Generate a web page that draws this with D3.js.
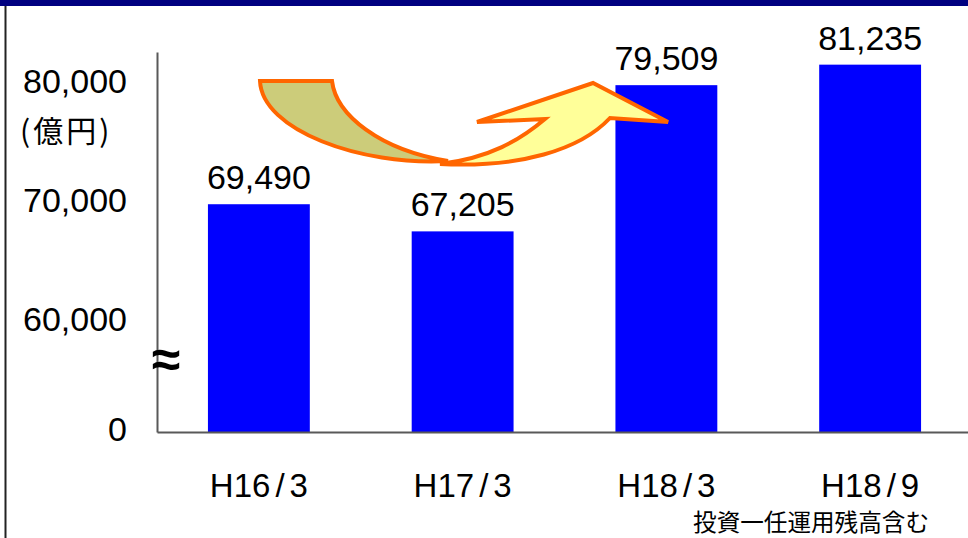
<!DOCTYPE html>
<html>
<head>
<meta charset="utf-8">
<script src="https://d3js.org/d3.v7.min.js"></script>
<style>
  body { margin: 0; background: #fff; }
  svg { display: block; }
  text { font-family: "Liberation Sans", Arial, sans-serif; fill: #000; }
  .jp { font-family: "Noto Sans CJK JP", sans-serif; }
</style>
</head>
<body>
<svg width="968" height="538"></svg>
<script>
// values (億円)
const categories = ["H16/3", "H17/3", "H18/3", "H18/9"];
const values = [69490, 67205, 79509, 81235];
const yTicks = [0, 60000, 70000, 80000];
const unitLabel = "(億円)";
const footnote = "投資一任運用残高含む";

const svg = d3.select("svg");

// header strip + left frame line
svg.append("rect").attr("x", 0).attr("y", 0).attr("width", 968).attr("height", 6).attr("fill", "#000080");
svg.append("line").attr("x1", 5.5).attr("x2", 5.5).attr("y1", 6).attr("y2", 538)
    .attr("stroke", "#222").attr("stroke-width", 2);

// broken value axis: 0 at the floor, then 60,000 .. top
const y = d3.scaleLinear().domain([0, 60000, 82300]).range([432, 317, 52]);
const x = d3.scaleBand().domain(categories).range([157, 972]).paddingInner(0.5).paddingOuter(0.25);

// bars
svg.append("g").selectAll("rect")
    .data(values)
    .enter().append("rect")
    .attr("x", (d, i) => x(categories[i]))
    .attr("y", d => y(d))
    .attr("width", x.bandwidth())
    .attr("height", d => y(0) - y(d))
    .attr("fill", "#0000ff");

// value labels
svg.append("g").selectAll("text")
    .data(values)
    .enter().append("text")
    .attr("x", (d, i) => x(categories[i]) + x.bandwidth() / 2)
    .attr("y", d => y(d) - 15)
    .attr("text-anchor", "middle")
    .attr("font-size", 34)
    .text(d => d3.format(",")(d));

// y axis
const yAxis = svg.append("g").attr("transform", "translate(157,0)")
    .call(d3.axisLeft(y).tickValues(yTicks).tickSize(0).tickPadding(30).tickFormat(d3.format(",")));
yAxis.select(".domain").attr("stroke", "#595959").attr("stroke-width", 2);
yAxis.selectAll("text").attr("font-size", 34).attr("dy", d => d === 0 ? "0.25em" : "0.4em")
    .attr("font-family", "Liberation Sans, Arial, sans-serif").attr("fill", "#000");

// x axis baseline
const xAxis = svg.append("g").attr("transform", "translate(0,432)")
    .call(d3.axisBottom(x).tickSize(0).tickFormat(""));
xAxis.select(".domain").attr("stroke", "#595959").attr("stroke-width", 2);

// category labels, slash set a little apart like the original
const catText = svg.append("g").selectAll("text")
    .data(categories)
    .enter().append("text")
    .attr("x", d => x(d) + x.bandwidth() / 2)
    .attr("y", 497)
    .attr("text-anchor", "middle")
    .attr("font-size", 33);
catText.append("tspan").text(d => d.split("/")[0]);
catText.append("tspan").attr("dx", 5).text("/");
catText.append("tspan").attr("dx", 5).text(d => d.split("/")[1]);

// unit label
svg.append("text").attr("class", "jp").attr("x", 20).attr("y", 142)
    .attr("font-size", 30).attr("letter-spacing", 3).text(unitLabel);

// axis break mark
svg.append("text").attr("x", 166).attr("y", 377)
    .attr("text-anchor", "middle")
    .attr("font-family", "DejaVu Serif, serif")
    .attr("font-weight", "bold")
    .attr("font-size", 52)
    .text("≈");

// curved arrow (decoration)
const arrow = svg.append("g")
    .attr("stroke", "#ff6600").attr("stroke-width", 4).attr("stroke-linejoin", "miter");
arrow.append("path")
    .attr("fill", "#cccc7a")
    .attr("d", "M260,81 L332,81 C336,115 380,150 448,161 C360,166 262,130 260,81 Z");
arrow.append("path")
    .attr("fill", "#ffff99")
    .attr("d", "M440,164 C520,168 580,150 610,118 L668,122 L593,83 L477,122 L545,119 C520,140 490,158 440,164 Z");

// footnote
svg.append("text").attr("class", "jp").attr("x", 929).attr("y", 531)
    .attr("text-anchor", "end").attr("font-size", 23.6).text(footnote);
</script>
</body>
</html>
